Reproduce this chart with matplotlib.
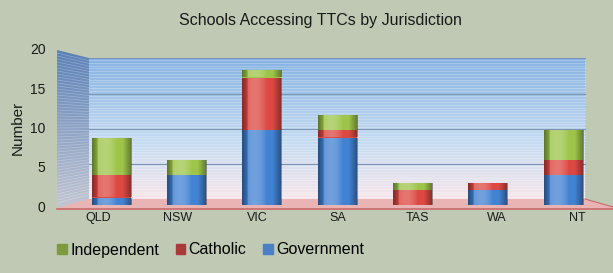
import numpy as np
import matplotlib.pyplot as plt
from matplotlib.patches import Polygon
from matplotlib.colors import to_rgb

plt.rcParams['font.family'] = ['Liberation Sans', 'DejaVu Sans']

# Data
jurisdictions = ["QLD", "NSW", "VIC", "SA", "TAS", "WA", "NT"]
government = [1, 4, 10, 9, 0, 2, 4]
catholic = [3, 0, 7, 1, 2, 1, 2]
independent = [5, 2, 1, 2, 1, 0, 4]

bg = "#bfc9b3"
W, H = 613, 273
fig = plt.figure(figsize=(W / 100, H / 100), dpi=100, facecolor=bg)

def px(x0, y0, x1, y1):
    # pixel box (left, top, right, bottom) -> figure fraction
    return [x0 / W, 1 - y1 / H, (x1 - x0) / W, (y1 - y0) / H]

# decoration layer in pixel coordinates (walls and floor)
deco = fig.add_axes([0, 0, 1, 1], zorder=0)
deco.set_xlim(0, W)
deco.set_ylim(H, 0)
deco.axis("off")

# back wall gradient
grad = np.linspace(0, 1, 200)[:, None]
top_c = np.array(to_rgb("#86b2e2"))
mid_c = np.array(to_rgb("#c6dcf2"))
bot_c = np.array(to_rgb("#f6e6ea"))
cols = np.where(grad < 0.6, top_c + (mid_c - top_c) * (grad / 0.6),
                mid_c + (bot_c - mid_c) * ((grad - 0.6) / 0.4))
img = np.repeat(cols[:, None, :], 2, axis=1).reshape(200, 2, 3)
deco.imshow(img, extent=(89, 585, 199, 58), aspect="auto", zorder=1)
for yy in np.arange(60, 199, 2.8):
    deco.plot([89, 585], [yy, yy], color="white", lw=0.5, alpha=0.35, zorder=2)
for yy in [58, 94, 129, 164]:
    deco.plot([89, 585], [yy, yy], color="#7d93b3", lw=0.8, zorder=2)

# left wall
lw_grad = np.linspace(0, 1, 200)[:, None]
lt = np.array(to_rgb("#5a80b8"))
lb = np.array(to_rgb("#c2c6d2"))
lcols = (lt + (lb - lt) * lw_grad).reshape(200, 1, 3)
lw_img = deco.imshow(lcols, extent=(57, 89, 208, 50), aspect="auto", zorder=1)
left_poly = Polygon([(57, 50), (89, 58), (89, 199), (57, 208)], closed=True,
                    facecolor="none", edgecolor="none")
deco.add_patch(left_poly)
lw_img.set_clip_path(left_poly)
for yy in np.arange(53, 205, 3.0):
    t = (yy - 50) / 158
    deco.plot([57, 89], [yy, 58 + t * 141], color="white", lw=0.5, alpha=0.3, zorder=2)

# floor
floor = Polygon([(57, 208), (89, 199), (585, 199), (613, 207), (613, 209), (57, 210)],
                closed=True, facecolor="#eab4b4", edgecolor="none", zorder=2)
deco.add_patch(floor)
deco.plot([57, 613], [209, 209], color="#c96a6a", lw=1.2, zorder=3)
deco.plot([585, 613], [199, 207], color="#c96a6a", lw=0.8, zorder=3)

# value scale shown on the front edge of the left wall
scale_ax = fig.add_axes(px(90, 49, 585, 206), zorder=1)
scale_ax.patch.set_alpha(0)
scale_ax.set_ylim(0, 20)
scale_ax.set_yticks([0, 5, 10, 15, 20])
scale_ax.tick_params(axis="y", length=0, pad=32, labelsize=10, labelcolor="#1a1a1a")
scale_ax.set_xticks([])
for s in scale_ax.spines.values():
    s.set_visible(False)
scale_ax.set_ylabel("Number", fontsize=11, labelpad=4, color="#1a1a1a")

# main axes with the bars
ax = fig.add_axes(px(90, 55, 585, 205), zorder=2)
ax.patch.set_alpha(0)
x = np.arange(len(jurisdictions))
gov = np.array(government)
cat = np.array(catholic)
ind = np.array(independent)
width = 0.52

series = [
    (gov, np.zeros_like(gov), "#4282d2"),
    (cat, gov, "#dd4842"),
    (ind, gov + cat, "#9ec54a"),
]

# horizontal shading profile for a cylinder look
prof = np.linspace(-1, 1, 64)
shade = np.zeros((1, 64, 4))
light = np.clip(1 - ((prof + 0.35) / 0.6) ** 2, 0, 1) * 0.25
dark = np.clip(np.abs(prof) - 0.55, 0, 1) / 0.45 * 0.4
shade[0, :, :3] = np.where(light[:, None] > dark[:, None], 1.0, 0.0)
shade[0, :, 3] = np.maximum(light, dark)

for vals, bottom, color in series:
    bars = ax.bar(x, vals, width, bottom=bottom, color=color, edgecolor="none", zorder=3)
    for b in bars:
        if b.get_height() <= 0:
            continue
        x0, y0 = b.get_x(), b.get_y()
        im = ax.imshow(shade, extent=(x0, x0 + b.get_width(), y0, y0 + b.get_height()),
                       aspect="auto", zorder=4, interpolation="bilinear")
        im.set_clip_path(b)

ax.set_xlim(-0.28, 6.29)
ax.set_ylim(0, 20)
ax.set_xticks([])
ax.set_yticks([])
for s in ax.spines.values():
    s.set_visible(False)

# category labels sit on the front edge of the floor
ax2 = ax.twiny()
ax2.xaxis.set_ticks_position("bottom")
ax2.set_xlim(-0.1, 6.1)
ax2.set_xticks(x)
ax2.set_xticklabels(jurisdictions)
ax2.tick_params(axis="x", length=0, pad=5, labelsize=9, labelcolor="#1a1a1a")
for s in ax2.spines.values():
    s.set_visible(False)

fig.text(320 / W, 1 - 20 / H, "Schools Accessing TTCs by Jurisdiction",
         ha="center", va="center", fontsize=11.5, color="#1a1a1a")

# legend
handles = [plt.Rectangle((0, 0), 1, 1, color=c) for c in ["#7b9b3c", "#a83a3a", "#4a80c8"]]
fig.legend(handles, ["Independent", "Catholic", "Government"], loc="center left",
           bbox_to_anchor=(51 / W, 1 - 250 / H), ncol=3, frameon=False,
           fontsize=11.5, handlelength=0.6, handleheight=0.6, handletextpad=0.2,
           columnspacing=1.05, borderaxespad=0)

fig.savefig("out.png", dpi=100, facecolor=bg)
